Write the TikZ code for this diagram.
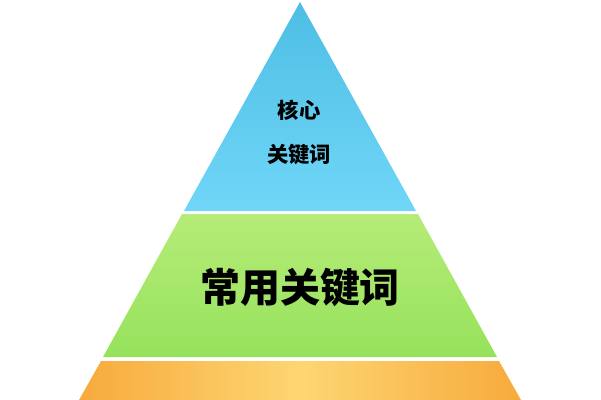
\documentclass[tikz,border=0pt]{standalone}
\usepackage{fontspec}
\newfontfamily\cjk{Noto Sans CJK SC}
\usepackage{tikz}
\usetikzlibrary{positioning}

\definecolor{tipblue}{RGB}{78,190,228}
\definecolor{lowblue}{RGB}{112,214,248}
\definecolor{topgreen}{RGB}{182,236,120}
\definecolor{lowgreen}{RGB}{150,226,92}
\definecolor{sideorange}{RGB}{247,170,60}
\definecolor{midorange}{RGB}{253,214,114}

\begin{document}
\begin{tikzpicture}[x=0.75pt,y=-0.75pt]
\tikzstyle{label}=[font=\cjk\bfseries, text=black, inner sep=0pt]
\tikzstyle{small}=[label, font=\cjk\bfseries\fontsize{16}{18}\selectfont]
\tikzstyle{big}=[label, font=\cjk\bfseries\fontsize{30}{34}\selectfont]
\useasboundingbox (0,0) rectangle (601,400);
  \fill[white] (0,0) rectangle (601,400);
  % top layer
  \coordinate (apex) at (300,2);
  \shade[top color=tipblue, bottom color=lowblue] (apex) -- (416,211) -- (184,211) -- cycle;
  % middle layer
  \shade[top color=topgreen, bottom color=lowgreen] (182,214) -- (418,214) -- (497,357) -- (103,357) -- cycle;
  % bottom layer
  \shade[left color=sideorange, right color=sideorange, middle color=midorange] (101,361) -- (499,361) -- (521,400) -- (79,400) -- cycle;

  \node[small] (core) at (299,110) {核心};
  \node[small] (corekw) at (299,154) {关键词};
  \node[big] (common) at (300,287) {常用关键词};
\end{tikzpicture}
\end{document}
